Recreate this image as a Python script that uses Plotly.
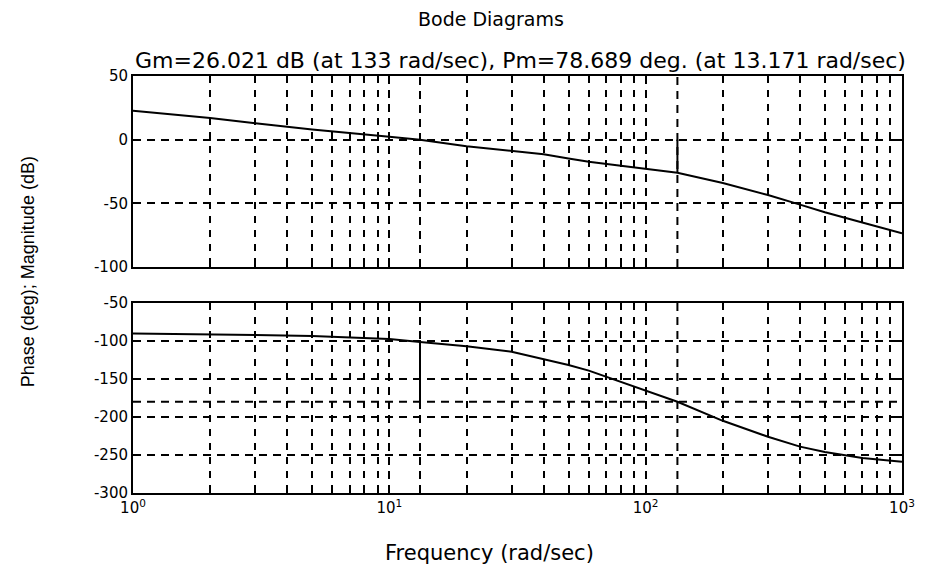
import plotly.graph_objects as go
from plotly.subplots import make_subplots

# ---- data ----
freq = [1, 2, 3, 5, 10, 13.171, 20, 30, 40, 50, 60, 80, 100, 133, 200, 300, 400, 500, 700, 1000]
magnitude_db = [22.7, 17.0, 12.8, 8.0, 2.3, 0.0, -5.2, -8.6, -11.5, -14.8, -17.3, -20.5, -22.8, -26.0,
                -34.0, -43.5, -51.0, -57.0, -65.0, -73.5]
phase_deg = [-90, -91, -92, -93.5, -97.5, -101.3, -107, -114, -124, -131.5, -139, -154, -165, -180,
             -205, -226, -239, -246, -254, -259]

gm_db = 26.021
w_gm = 133
pm_deg = 78.689
w_pm = 13.171

decades = [1, 10, 100, 1000]
decade_labels = ["10<sup>0</sup>", "10<sup>1</sup>", "10<sup>2</sup>", "10<sup>3</sup>"]
minor_x = [d * m for d in [1, 10, 100] for m in range(2, 10)]
mag_ticks = [-100, -50, 0, 50]
mag_labels = ["-100", "-50", "0", "50"]
phase_ticks = [-300, -250, -200, -150, -100, -50]
phase_labels = ["-300", "-250", "-200", "-150", "-100", "-50"]

FONT = "DejaVu Sans, Liberation Sans, sans-serif"

fig = make_subplots(rows=2, cols=1, vertical_spacing=0.0)

line_style = dict(color="black", width=2)
dash_style = dict(color="black", width=2, dash="8px,6px")
solid_mark = dict(color="black", width=2)

# magnitude
fig.add_trace(go.Scatter(x=freq, y=magnitude_db, mode="lines", line=line_style), row=1, col=1)
fig.add_trace(go.Scatter(x=[w_pm, w_pm], y=[-100, 50], mode="lines", line=dash_style), row=1, col=1)
fig.add_trace(go.Scatter(x=[w_gm, w_gm], y=[-100, 50], mode="lines", line=dash_style), row=1, col=1)
fig.add_trace(go.Scatter(x=[w_gm, w_gm], y=[0, -gm_db], mode="lines", line=solid_mark), row=1, col=1)

# phase
fig.add_trace(go.Scatter(x=freq, y=phase_deg, mode="lines", line=line_style), row=2, col=1)
fig.add_trace(go.Scatter(x=[1, 1000], y=[-180, -180], mode="lines", line=dash_style), row=2, col=1)
fig.add_trace(go.Scatter(x=[w_gm, w_gm], y=[-300, -50], mode="lines", line=dash_style), row=2, col=1)
fig.add_trace(go.Scatter(x=[w_pm, w_pm], y=[-300, -50], mode="lines", line=dash_style), row=2, col=1)
fig.add_trace(go.Scatter(x=[w_pm, w_pm], y=[-180, -180 + pm_deg], mode="lines", line=solid_mark), row=2, col=1)

tickfont = dict(family=FONT, size=15, color="black")
grid_kw = dict(showgrid=True, gridcolor="black", gridwidth=2, griddash="8px,6px")
minor_kw = dict(tickvals=minor_x, showgrid=True, gridcolor="black", gridwidth=2, griddash="7px,7px",
                ticks="inside", ticklen=5, tickcolor="black", tickwidth=2)
xcommon = dict(type="log", range=[0, 3], tickmode="array", tickvals=decades, **grid_kw,
               showline=True, linecolor="black", linewidth=2, mirror="ticks", ticks="inside",
               ticklen=6, tickwidth=2, tickcolor="black", zeroline=False, tickfont=tickfont,
               minor=minor_kw)
fig.update_xaxes(**xcommon, showticklabels=False, row=1, col=1)
fig.update_xaxes(**xcommon, ticktext=decade_labels, ticklabeloverflow="allow", row=2, col=1)

ycommon = dict(**grid_kw, showline=True, linecolor="black", linewidth=2, mirror="ticks",
               ticks="inside", ticklen=6, tickwidth=2, tickcolor="black", zeroline=False,
               tickfont=tickfont, tickmode="array")
fig.update_yaxes(**ycommon, range=[-100, 50], tickvals=mag_ticks, ticktext=mag_labels, row=1, col=1)
fig.update_yaxes(**ycommon, range=[-300, -50], tickvals=phase_ticks, ticktext=phase_labels, row=2, col=1)

fig.update_layout(
    autosize=False,
    width=927, height=565,
    margin=dict(l=133, r=16, t=76, b=72),
    paper_bgcolor="white", plot_bgcolor="white",
    showlegend=False,
    font=dict(family=FONT, color="black"),
)
fig.layout.yaxis.domain = [0.542, 1.0]
fig.layout.yaxis2.domain = [0.0, 0.4556]

fig.add_annotation(text="Bode Diagrams", xref="paper", yref="paper", x=0.465, y=1 + 57 / 417,
                   showarrow=False, yanchor="middle", font=dict(size=19))
fig.add_annotation(text="Gm=26.021 dB (at 133 rad/sec), Pm=78.689 deg. (at 13.171 rad/sec)",
                   xref="paper", yref="paper", x=0.504, y=1 + 16 / 417,
                   showarrow=False, yanchor="middle", font=dict(size=22))
fig.add_annotation(text="Frequency (rad/sec)", xref="paper", yref="paper", x=0.463, y=-60 / 417,
                   showarrow=False, yanchor="middle", font=dict(size=21))
fig.add_annotation(text="Phase (deg); Magnitude (dB)", xref="paper", yref="paper",
                   x=-106 / 778, y=(493 - 272) / 417, textangle=-90, showarrow=False,
                   xanchor="center", yanchor="middle",
                   font=dict(family="Liberation Sans, sans-serif", size=18))

# remove the browser's default 8px body margin so the figure fills the window exactly
fig.write_html("out.html", config={"displayModeBar": False},
               post_script="document.body.style.margin='0px';")
